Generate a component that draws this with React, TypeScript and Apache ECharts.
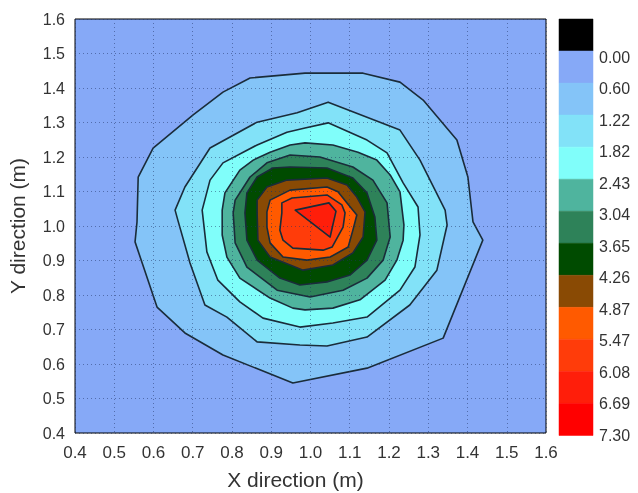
import React, { useEffect, useRef } from "react";
import * as echarts from "echarts";

// Colour bar levels (top to bottom) and their colours
const levelLabels = ["0.00", "0.60", "1.22", "1.82", "2.43", "3.04", "3.65", "4.26", "4.87", "5.47", "6.08", "6.69", "7.30"];
const levelColors = ["#000000", "#86a9f7", "#84c4f8", "#82e2f8", "#80fefa", "#4fb49e", "#2e8259", "#004b00", "#894a04", "#ff5a00", "#ff3c0a", "#ff1e0a", "#ff0000"];

// Contour polygons [x (m), y (m)], outermost first
const contour1 = [[0.553, 0.954], [0.558, 1.012], [0.561, 1.142], [0.599, 1.226], [0.701, 1.322], [0.777, 1.388], [0.846, 1.429], [0.986, 1.443], [1.134, 1.443], [1.228, 1.417], [1.287, 1.365], [1.373, 1.249], [1.401, 1.142], [1.414, 1.012], [1.439, 0.959], [1.338, 0.675], [1.144, 0.588], [0.955, 0.545], [0.777, 0.626], [0.68, 0.69], [0.609, 0.765]];
const contour2 = [[0.655, 1.046], [0.68, 1.113], [0.744, 1.226], [0.864, 1.301], [0.966, 1.328], [1.045, 1.359], [1.228, 1.278], [1.279, 1.191], [1.343, 1.046], [1.348, 1.003], [1.322, 0.872], [1.253, 0.771], [1.144, 0.678], [1.042, 0.652], [0.973, 0.655], [0.864, 0.664], [0.787, 0.736], [0.731, 0.771], [0.693, 0.893], [0.662, 1.017]];
const contour3 = [[0.724, 1.046], [0.744, 1.133], [0.777, 1.183], [0.864, 1.235], [0.94, 1.272], [0.986, 1.284], [1.045, 1.299], [1.144, 1.249], [1.195, 1.212], [1.236, 1.125], [1.274, 1.055], [1.279, 0.974], [1.266, 0.881], [1.228, 0.814], [1.144, 0.736], [1.057, 0.719], [0.973, 0.707], [0.879, 0.733], [0.82, 0.78], [0.764, 0.843], [0.736, 0.925]];
const contour4 = [[0.775, 1.046], [0.782, 1.096], [0.82, 1.162], [0.854, 1.191], [0.897, 1.214], [0.948, 1.235], [0.986, 1.241], [1.057, 1.235], [1.121, 1.214], [1.169, 1.191], [1.203, 1.148], [1.228, 1.099], [1.238, 1.003], [1.236, 0.959], [1.22, 0.901], [1.19, 0.843], [1.126, 0.786], [1.057, 0.762], [0.986, 0.757], [0.955, 0.762], [0.897, 0.791], [0.82, 0.849], [0.787, 0.91], [0.775, 0.974]];
const contour5 = [[0.803, 1.038], [0.808, 1.075], [0.846, 1.142], [0.889, 1.183], [0.948, 1.206], [1.024, 1.2], [1.108, 1.171], [1.159, 1.133], [1.195, 1.067], [1.203, 0.968], [1.185, 0.901], [1.144, 0.849], [1.083, 0.814], [0.999, 0.794], [0.915, 0.814], [0.838, 0.881], [0.808, 0.951]];
const contour6 = [[0.833, 1.038], [0.838, 1.096], [0.864, 1.142], [0.904, 1.168], [0.948, 1.171], [1.042, 1.168], [1.108, 1.139], [1.144, 1.096], [1.164, 1.026], [1.169, 0.959], [1.144, 0.901], [1.101, 0.858], [1.042, 0.838], [0.973, 0.829], [0.922, 0.849], [0.864, 0.901], [0.838, 0.959]];
const contour7 = [[0.864, 1.038], [0.864, 1.075], [0.889, 1.113], [0.94, 1.133], [1.042, 1.139], [1.093, 1.119], [1.118, 1.084], [1.139, 1.041], [1.134, 0.968], [1.108, 0.922], [1.057, 0.887], [0.981, 0.872], [0.948, 0.887], [0.897, 0.91], [0.866, 0.959]];
const contour8 = [[0.889, 1.041], [0.897, 1.075], [0.948, 1.104], [1.042, 1.113], [1.07, 1.099], [1.093, 1.067], [1.118, 1.032], [1.108, 0.988], [1.096, 0.939], [1.05, 0.91], [0.991, 0.901], [0.93, 0.91], [0.897, 0.951], [0.889, 0.997]];
const contour9 = [[0.927, 1.038], [0.927, 1.067], [0.953, 1.081], [1.042, 1.09], [1.08, 1.061], [1.088, 1.038], [1.083, 0.997], [1.055, 0.939], [1.032, 0.93], [0.955, 0.936], [0.93, 0.959], [0.922, 0.988]];
const contour10 = [[0.961, 1.046], [1.047, 1.067], [1.065, 1.043], [1.05, 0.968]];
const contours = [contour1, contour2, contour3, contour4, contour5, contour6, contour7, contour8, contour9, contour10];

const FONT = "'Liberation Sans', Arial, sans-serif";
const TEXT = "#333333";
const GRIDLINE = { color: "rgba(30,50,100,0.5)", type: [1, 3], width: 1 };

export default function App() {
  const ref = useRef<HTMLDivElement>(null);
  useEffect(() => {
    if (!ref.current) return;
    const chart = echarts.init(ref.current, null, { renderer: "svg" });
    const option: any = {
      animation: false,
      textStyle: { fontFamily: FONT },
      grid: [
        { left: 75, top: 19, width: 471, height: 414, show: true, backgroundColor: levelColors[1], borderColor: "#000", borderWidth: 1, outerBoundsMode: "none", containLabel: false },
        { left: 559, top: 19, width: 34, height: 416.5, outerBoundsMode: "none", containLabel: false },
        { left: 559, top: 57, width: 34, height: 378, outerBoundsMode: "none", containLabel: false },
      ],
      xAxis: [
        {
          gridIndex: 0, type: "value", min: 0.4, max: 1.6, interval: 0.1, z: 5,
          axisLine: { show: false }, axisTick: { show: false },
          splitLine: { show: true, lineStyle: GRIDLINE },
          axisLabel: { formatter: (v: number) => v.toFixed(1), fontSize: 17, margin: 11, color: TEXT, fontFamily: FONT },
          name: "X direction (m)", nameLocation: "middle", nameGap: 36,
          nameTextStyle: { fontSize: 21, color: TEXT, fontFamily: FONT, padding: [0, 30, 0, 0] },
        },
        { gridIndex: 1, type: "value", min: 0, max: 1, show: false },
        { gridIndex: 2, type: "value", min: 0, max: 1, show: false },
      ],
      yAxis: [
        {
          gridIndex: 0, type: "value", min: 0.4, max: 1.6, interval: 0.1, z: 5,
          axisLine: { show: false }, axisTick: { show: false },
          splitLine: { show: true, lineStyle: GRIDLINE },
          axisLabel: { formatter: (v: number) => v.toFixed(1), fontSize: 16, margin: 10, color: TEXT, fontFamily: FONT },
          name: "Y direction (m)", nameLocation: "middle", nameGap: 47,
          nameTextStyle: { fontSize: 21, color: TEXT, fontFamily: FONT },
        },
        { gridIndex: 1, type: "value", min: 0, max: levelColors.length, inverse: true, show: false },
        {
          gridIndex: 2, type: "value", min: 0, max: levelLabels.length - 1, interval: 1, inverse: true, position: "right",
          axisLine: { show: false }, axisTick: { show: false }, splitLine: { show: false },
          axisLabel: { formatter: (v: number) => levelLabels[Math.round(v)], fontSize: 16, margin: 6, color: TEXT, fontFamily: FONT },
        },
      ],
      series: [
        {
          type: "custom",
          xAxisIndex: 0, yAxisIndex: 0,
          data: contours.map((c, i) => [c[0][0], c[0][1], i]),
          encode: { x: 0, y: 1 },
          renderItem: (params: any, api: any) => {
            const i = params.dataIndex;
            const pts = contours[i].map((p) => api.coord(p));
            return {
              type: "polygon",
              shape: { points: pts },
              style: { fill: levelColors[i + 2], stroke: "#1a2c3a", lineWidth: 1.6, lineJoin: "round" },
            };
          },
        },
        {
          type: "custom",
          xAxisIndex: 1, yAxisIndex: 1,
          data: levelColors.map((c, i) => [0, i, i]),
          encode: { x: 0, y: 1 },
          renderItem: (params: any, api: any) => {
            const i = params.dataIndex;
            const a = api.coord([0, i]);
            const b = api.coord([1, i + 1]);
            return {
              type: "rect",
              shape: { x: a[0], y: a[1], width: b[0] - a[0], height: b[1] - a[1] },
              style: { fill: levelColors[i], stroke: levelColors[i], lineWidth: 0.5 },
            };
          },
        },
      ],
    };
    chart.setOption(option);
    return () => chart.dispose();
  }, []);
  return <div ref={ref} style={{ position: "fixed", left: 0, top: 0, width: 638, height: 493 }} />;
}
